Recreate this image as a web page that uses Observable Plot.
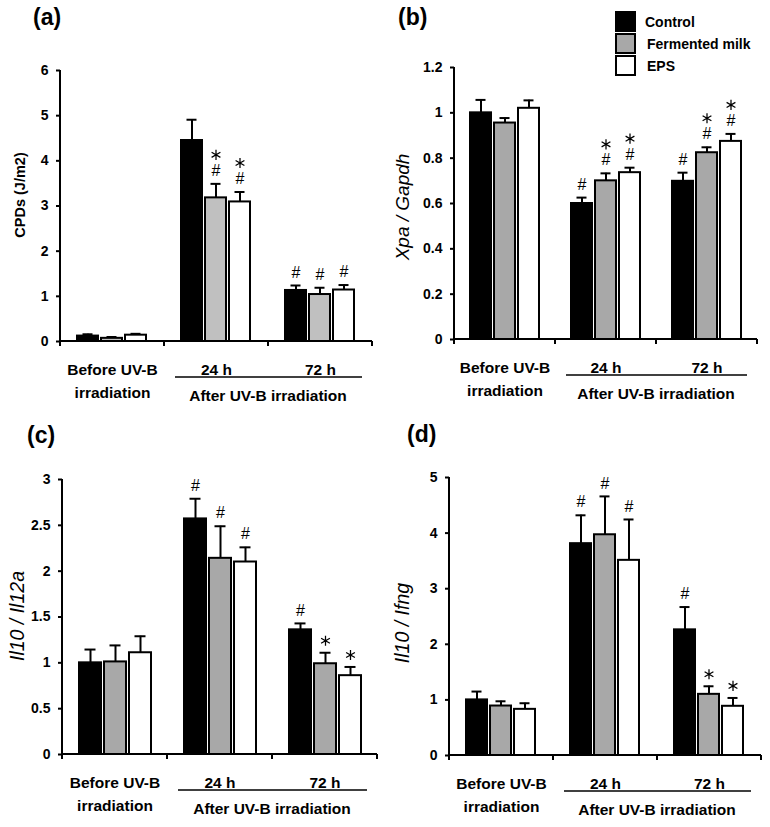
<!DOCTYPE html>
<html>
<head>
<meta charset="utf-8">
<script src="https://cdn.jsdelivr.net/npm/d3@7"></script>
<script src="https://cdn.jsdelivr.net/npm/@observablehq/plot@0.6"></script>
<style>
  html, body { margin: 0; padding: 0; background: #fff; }
  #root { position: relative; width: 770px; height: 827px; background: #fff; font-family: "Liberation Sans", Arial, sans-serif; }
  .cell { position: absolute; }
  .plabel { position: absolute; font-weight: bold; font-size: 23px; line-height: 1; color: #000; }
  .lgbox { position: absolute; width: 21px; height: 21px; box-sizing: border-box; border: 2px solid #000; }
  .lgtext { position: absolute; font-weight: bold; font-size: 14px; line-height: 1; color: #000; }
</style>
</head>
<body>
<div id="root"></div>
<script>
// ---------- data ----------
const groups = ["Before UV-B\nirradiation", "24 h", "72 h"];
const series = ["Control", "Fermented milk", "EPS"];
const afterLabel = "After UV-B irradiation";

// (a) CPDs
const aMean = [[0.12, 0.07, 0.14], [4.45, 3.18, 3.09], [1.13, 1.04, 1.14]];
const aErr  = [[0.04, 0.03, 0.03], [0.46, 0.31, 0.22], [0.11, 0.15, 0.11]];
const aHash = [[0, 0, 0], [0, 1, 1], [1, 1, 1]];
const aStar = [[0, 0, 0], [0, 1, 1], [0, 0, 0]];
const aTicks = [0, 1, 2, 3, 4, 5, 6];

// (b) Xpa / Gapdh
const bMean = [[1.00, 0.955, 1.02], [0.60, 0.70, 0.736], [0.698, 0.824, 0.874]];
const bErr  = [[0.057, 0.022, 0.035], [0.026, 0.033, 0.022], [0.038, 0.024, 0.033]];
const bHash = [[0, 0, 0], [1, 1, 1], [1, 1, 1]];
const bStar = [[0, 0, 0], [0, 1, 1], [0, 1, 1]];
const bTicks = [0, 0.2, 0.4, 0.6, 0.8, 1, 1.2];

// (c) Il10 / Il12a
const cMean = [[1.00, 1.01, 1.11], [2.57, 2.14, 2.10], [1.36, 0.99, 0.86]];
const cErr  = [[0.145, 0.18, 0.18], [0.22, 0.35, 0.16], [0.07, 0.12, 0.095]];
const cHash = [[0, 0, 0], [1, 1, 1], [1, 0, 0]];
const cStar = [[0, 0, 0], [0, 0, 0], [0, 1, 1]];
const cTicks = [0, 0.5, 1, 1.5, 2, 2.5, 3];

// (d) Il10 / Ifng
const dMean = [[1.00, 0.89, 0.83], [3.81, 3.97, 3.51], [2.26, 1.10, 0.885]];
const dErr  = [[0.15, 0.085, 0.11], [0.51, 0.69, 0.735], [0.41, 0.145, 0.15]];
const dHash = [[0, 0, 0], [1, 1, 1], [1, 0, 0]];
const dStar = [[0, 0, 0], [0, 0, 0], [0, 1, 1]];
const dTicks = [0, 1, 2, 3, 4, 5];

const FONT = "'Liberation Sans', Arial, sans-serif";

function buildRows(mean, err, hash, star) {
  return groups.flatMap((g, i) => series.map((s, j) => ({
    group: g, series: s, value: mean[i][j], err: err[i][j],
    top: mean[i][j] + err[i][j], hash: !!hash[i][j], star: !!star[i][j]
  })));
}

function panel(cfg) {
  const rows = buildRows(cfg.mean, cfg.err, cfg.hash, cfg.star);
  const pos = {fx: "group", x: "series", y: "top"};
  const starOpt = {...pos, symbol: "asterisk", r: 4.8, stroke: "#000", strokeWidth: 1.25};
  const plot = Plot.plot({
    width: cfg.width, height: cfg.height,
    marginLeft: cfg.ml, marginRight: cfg.mr, marginTop: cfg.mt, marginBottom: cfg.mb,
    style: {fontFamily: FONT, background: "transparent", overflow: "visible", color: "#000"},
    fx: {domain: groups, paddingInner: 0, paddingOuter: 0, label: null, axis: null},
    x: {domain: series, paddingInner: 0.12, paddingOuter: 0.65, axis: null},
    y: {domain: [0, cfg.ticks[cfg.ticks.length - 1]], axis: null},
    color: {domain: series, range: ["#000000", cfg.gray, "#ffffff"]},
    marks: [
      Plot.ruleX(rows, {fx: "group", x: "series", y1: "value", y2: "top", stroke: "#000", strokeWidth: 2}),
      Plot.tickY(rows, {...pos, stroke: "#000", strokeWidth: 2, insetLeft: 5.5, insetRight: 5.5}),
      Plot.barY(rows, {fx: "group", x: "series", y: "value", fill: "series", stroke: "#000", strokeWidth: 2}),
      Plot.text(rows.filter(d => d.hash), {...pos, text: () => "#", fill: "#000", fontFamily: FONT, fontSize: 16, dy: -13}),
      Plot.dot(rows.filter(d => d.star && d.hash), {...starOpt, dy: -29}),
      Plot.dot(rows.filter(d => d.star && !d.hash), {...starOpt, dy: -12}),
      Plot.axisY({ticks: cfg.ticks, tickFormat: d => String(d), tickSize: 4, tickPadding: 8,
                  fontSize: 14, fontWeight: "bold", strokeWidth: 2, label: null}),
      Plot.axisFx({anchor: "bottom", tickSize: 0, tickPadding: 17, fontSize: 15.5, fontWeight: "bold",
                   lineHeight: 1.48, label: null})
    ]
  });

  // axis lines, group boundary ticks, bracket + label — positioned with Plot's own scales
  const fx = plot.scale("fx"), y = plot.scale("y");
  const svg = d3.select(plot);
  const left = fx.apply(groups[0]);
  const right = fx.apply(groups[groups.length - 1]) + fx.bandwidth;
  const y0 = y.apply(0), yTop = y.apply(cfg.ticks[cfg.ticks.length - 1]);
  const g = svg.append("g").attr("stroke", "#000").attr("stroke-width", 2).attr("fill", "none");
  g.append("line").attr("x1", left).attr("x2", right).attr("y1", y0).attr("y2", y0);
  g.append("line").attr("x1", left).attr("x2", left).attr("y1", yTop).attr("y2", y0);
  const bounds = groups.map(k => fx.apply(k)).concat([right]);
  bounds.forEach(bx => g.append("line").attr("x1", bx).attr("x2", bx).attr("y1", y0).attr("y2", y0 + 5));
  const bx1 = fx.apply(groups[1]) + 11, bx2 = right - 10;
  svg.append("line").attr("x1", bx1).attr("x2", bx2).attr("y1", y0 + 36).attr("y2", y0 + 36)
     .attr("stroke", "#000").attr("stroke-width", 1.5);
  svg.append("text").attr("x", fx.apply(groups[2])).attr("y", y0 + 60)
     .attr("text-anchor", "middle").attr("font-weight", "bold").attr("font-size", 15.5)
     .attr("font-family", FONT).attr("fill", "#000").text(afterLabel);

  // y label
  const yl = svg.append("text")
     .attr("transform", `translate(${cfg.ylx},${cfg.yly}) rotate(-90)`)
     .attr("text-anchor", "middle").attr("dy", "0.35em")
     .attr("font-family", FONT).attr("font-size", cfg.ylSize).attr("fill", "#000")
     .attr("font-weight", cfg.ylBold ? "bold" : "normal");
  cfg.ylParts.forEach(([t, it]) => yl.append("tspan").attr("font-style", it ? "italic" : "normal").text(t));

  const cell = document.createElement("div");
  cell.className = "cell";
  cell.style.left = cfg.left + "px";
  cell.style.top = cfg.top + "px";
  cell.appendChild(plot);
  return cell;
}

const root = document.getElementById("root");
root.appendChild(panel({left: 0, top: 0, width: 385, height: 410, ml: 59, mr: 13, mt: 70, mb: 69,
  mean: aMean, err: aErr, hash: aHash, star: aStar, ticks: aTicks, gray: "#c0c0c0",
  ylx: 20, yly: 195, ylSize: 14.5, ylBold: true, ylParts: [["CPDs (J/m2)", false]]}));
root.appendChild(panel({left: 385, top: 0, width: 385, height: 410, ml: 68, mr: 13, mt: 67, mb: 71,
  mean: bMean, err: bErr, hash: bHash, star: bStar, ticks: bTicks, gray: "#a8a8a8",
  ylx: 17, yly: 207, ylSize: 19, ylBold: false, ylParts: [["Xpa", true], [" / ", true], ["Gapdh", true]]}));
root.appendChild(panel({left: 0, top: 410, width: 385, height: 417, ml: 62, mr: 8, mt: 69, mb: 73,
  mean: cMean, err: cErr, hash: cHash, star: cStar, ticks: cTicks, gray: "#a8a8a8",
  ylx: 17, yly: 206, ylSize: 19.5, ylBold: false, ylParts: [["Il10", true], [" / ", true], ["Il12a", true]]}));
root.appendChild(panel({left: 385, top: 410, width: 385, height: 417, ml: 63, mr: 8, mt: 67, mb: 72,
  mean: dMean, err: dErr, hash: dHash, star: dStar, ticks: dTicks, gray: "#a8a8a8",
  ylx: 17, yly: 213, ylSize: 19.5, ylBold: false, ylParts: [["Il10", true], [" / ", true], ["Ifng", true]]}));

// panel labels
[["(a)", 33, 6], ["(b)", 398, 6], ["(c)", 27, 424], ["(d)", 407, 423]].forEach(([t, x, yy]) => {
  const d = document.createElement("div");
  d.className = "plabel"; d.textContent = t;
  d.style.left = x + "px"; d.style.top = yy + "px";
  root.appendChild(d);
});

// legend (in panel b)
const legendFill = ["#000000", "#a8a8a8", "#ffffff"];
const legendTop = [11, 33, 55];
const legendTextLeft = [645, 647, 647];
series.forEach((s, i) => {
  const b = document.createElement("div");
  b.className = "lgbox";
  b.style.left = "615px"; b.style.top = legendTop[i] + "px"; b.style.background = legendFill[i];
  root.appendChild(b);
  const t = document.createElement("div");
  t.className = "lgtext"; t.textContent = s;
  t.style.left = legendTextLeft[i] + "px"; t.style.top = (legendTop[i] + 4) + "px";
  root.appendChild(t);
});
</script>
</body>
</html>
